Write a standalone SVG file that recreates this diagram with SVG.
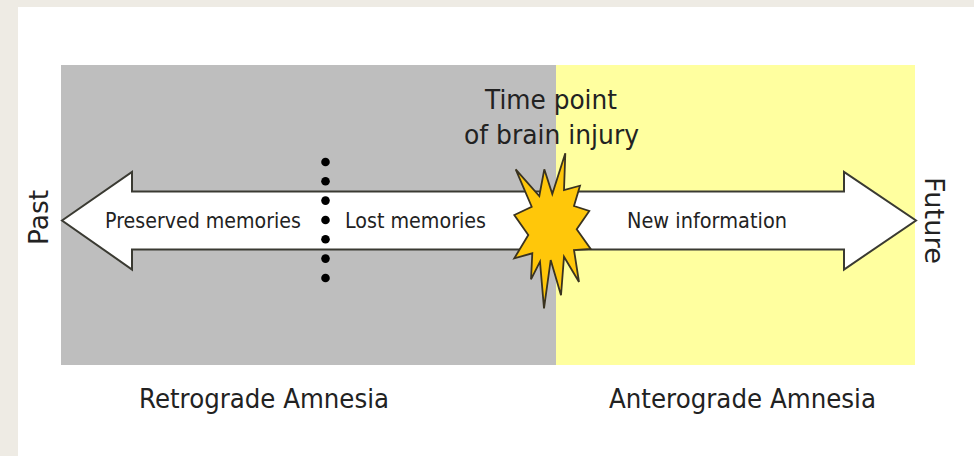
<svg xmlns="http://www.w3.org/2000/svg" width="974" height="456" viewBox="0 0 974 456">
<style>
text{font-family:"DejaVu Sans","Noto Sans",sans-serif;fill:#222}
.s{font-size:21.500px}.l{font-size:26px}.a{stroke:#3a3a32;stroke-width:2;fill:#fff}
</style>
<rect width="974" height="456" fill="#eeebe4"/>
<rect x="18" y="7" width="956" height="449" fill="#fff"/>
<g id="regions"><rect x="61" y="65" width="495" height="300" fill="#bebebe"/><rect x="556" y="65" width="359" height="300" fill="#ffff9f"/></g>
<g id="connectors"><path class="a" d="M62 220.500L132 172V191.500H844V172L916 220.500L844 269.500V249.500H132V269.500Z"/></g>
<g id="divider" fill="#000"><circle cx="325.500" cy="162" r="4.300"/><circle cx="325.500" cy="181.300" r="4.300"/><circle cx="325.500" cy="200.600" r="4.300"/><circle cx="325.500" cy="220" r="4.300"/><circle cx="325.500" cy="239.300" r="4.300"/><circle cx="325.500" cy="258.600" r="4.300"/><circle cx="325.500" cy="278" r="4.300"/></g>
<g id="burst"><path d="M515.700 169.300L539.300 196L544.300 169.300L552.300 194L565.300 153.300L564 190L580 185.700L574 206L589.300 211L576.700 229.300L590.700 249L574 250L579 282L564 256.700L561 295.300L550.700 260L544 308.300L540 261.700L531 279.300L532.300 253.300L514.300 258.300L528.300 235L514.300 215L531.700 206.700Z" fill="#ffc70a" stroke="#3a3320" stroke-width="1.800" stroke-linejoin="miter"/></g>
<g id="labels">
<text id="past" class="l" transform="translate(47.500 245) rotate(-90)" textLength="55" lengthAdjust="spacingAndGlyphs">Past</text>
<text id="future" class="l" transform="translate(925 177) rotate(90)" textLength="87" lengthAdjust="spacingAndGlyphs">Future</text>
<text class="s" x="105" y="227.500" textLength="196" lengthAdjust="spacingAndGlyphs">Preserved memories</text>
<text class="s" x="345" y="227.500" textLength="141" lengthAdjust="spacingAndGlyphs">Lost memories</text>
<text class="s" x="627" y="227.500" textLength="160" lengthAdjust="spacingAndGlyphs">New information</text>
<text class="l" x="485" y="109" textLength="132" lengthAdjust="spacingAndGlyphs">Time point</text>
<text class="l" x="464" y="144" textLength="175" lengthAdjust="spacingAndGlyphs">of brain injury</text>
<text class="l" x="139" y="408" textLength="250" lengthAdjust="spacingAndGlyphs">Retrograde Amnesia</text>
<text class="l" x="609" y="408" textLength="267" lengthAdjust="spacingAndGlyphs">Anterograde Amnesia</text>
</g>
</svg>
